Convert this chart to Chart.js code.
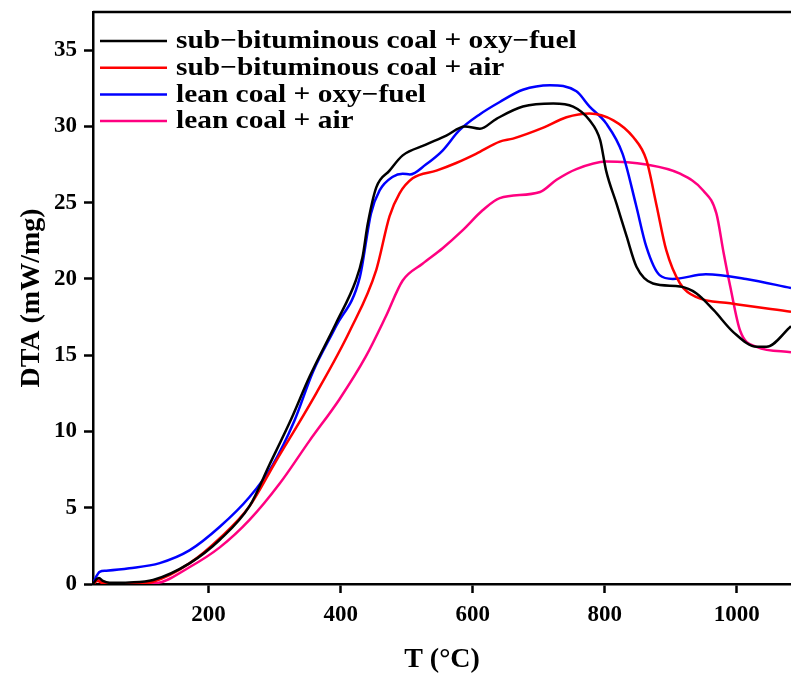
<!DOCTYPE html>
<html>
<head>
<meta charset="utf-8">
<script src="https://cdn.jsdelivr.net/npm/chart.js@4/dist/chart.umd.min.js"></script>
<style>
  body { margin: 0; background: #fff; }
  #wrap { width: 791px; height: 675px; }
</style>
</head>
<body>
<div id="wrap"><canvas id="dtaChart" width="791" height="675"></canvas></div>
<script>
// Series: temperature (°C) and DTA (mW/mg)
var seriesNames = ['sub\u2212bituminous coal + oxy\u2212fuel', 'sub\u2212bituminous coal + air',
                   'lean coal + oxy\u2212fuel', 'lean coal + air'];
var seriesColors = ['#000000', '#ff0000', '#0000ff', '#ff0080'];

var tSubOxy = [25, 30, 34, 40, 50, 80, 116, 171, 217, 262, 292, 325, 353, 393, 423, 433, 441, 454, 474, 494,
               529, 560, 588, 611, 636, 676, 722, 752, 777, 793, 802, 818, 833, 848, 873, 914, 939, 965, 995,
               1030, 1045, 1082];
var dtaSubOxy = [0, 0.3, 0.4, 0.2, 0.08, 0.1, 0.26, 1.35, 2.9, 5.1, 7.8, 10.8, 13.6, 17.1, 19.9, 21.4, 23.6, 26.0, 27.1, 28.1,
                 28.8, 29.4, 30.0, 29.85, 30.5, 31.3, 31.5, 31.3, 30.4, 29.1, 27.1, 24.9, 22.8, 20.8, 19.7, 19.5, 19.05, 17.95, 16.5,
                 15.55, 15.55, 16.9];

var tSubAir = [25, 32, 40, 60, 90, 116, 171, 217, 262, 300, 363, 414, 454, 474, 489, 509, 545, 575, 605, 641,
               661, 706, 742, 777, 813, 843, 863, 878, 893, 914, 939, 990, 1082];
var dtaSubAir = [0, 0.2, 0.05, 0, 0, 0.15, 1.35, 3.0, 5.1, 7.9, 12.5, 16.6, 20.6, 24.1, 25.6, 26.6, 27.1, 27.6, 28.2, 29.0,
                 29.2, 29.9, 30.6, 30.85, 30.4, 29.3, 27.8, 24.9, 21.9, 19.7, 18.8, 18.4, 17.85];

var tLeanOxy = [25, 30, 35, 45, 80, 126, 171, 217, 262, 297, 330, 358, 393, 429, 446, 459, 479, 494, 505, 529, 554,
                580, 611, 641, 676, 717, 757, 777, 802, 827, 847, 863, 883, 903, 953, 1014, 1082];
var dtaLeanOxy = [0, 0.5, 0.8, 0.87, 1.03, 1.37, 2.2, 3.75, 5.7, 7.8, 10.7, 13.9, 16.9, 20.1, 24.3, 25.8, 26.7, 26.9, 26.85, 27.5, 28.4,
                  29.75, 30.8, 31.6, 32.4, 32.7, 32.3, 31.3, 30.2, 28.2, 24.9, 22.1, 20.25, 20.0, 20.3, 20.0, 19.4];

var tLeanAir = [25, 30, 35, 45, 80, 120, 171, 217, 262, 308, 353, 398, 438, 468, 494, 524, 554, 585, 615, 641,
                702, 727, 757, 802, 863, 914, 949, 969, 980, 990, 1005, 1030, 1082];
var dtaLeanAir = [0, 0.3, 0.25, 0.05, 0, 0.05, 1.1, 2.4, 4.2, 6.6, 9.4, 12.1, 14.9, 17.5, 19.9, 21.0, 22.0, 23.2, 24.5, 25.3,
                  25.7, 26.5, 27.2, 27.7, 27.5, 26.9, 25.8, 24.3, 21.7, 19.5, 16.6, 15.55, 15.2];

var xTicks = [200, 400, 600, 800, 1000];
var yTicks = [0, 5, 10, 15, 20, 25, 30, 35];

function toPoints(xs, ys) {
    return xs.map(function(x, i) { return {x: x, y: ys[i]}; });
}

var allT = [tSubOxy, tSubAir, tLeanOxy, tLeanAir];
var allDta = [dtaSubOxy, dtaSubAir, dtaLeanOxy, dtaLeanAir];

var datasets = seriesNames.map(function(name, i) {
    return {
        label: name,
        data: toPoints(allT[i], allDta[i]),
        borderColor: seriesColors[i],
        borderWidth: 2.5,
        pointRadius: 0,
        fill: false,
        cubicInterpolationMode: 'monotone'
    };
});

var serif = "'Liberation Serif', 'Times New Roman', serif";

// legend drawn inside the plot, plus the top frame line
var insideLegend = {
    id: 'insideLegend',
    afterDraw: function(chart) {
        var ctx = chart.ctx;
        var area = chart.chartArea;
        ctx.save();
        ctx.strokeStyle = '#000';
        ctx.lineWidth = 2.5;
        ctx.beginPath();
        ctx.moveTo(area.left, area.top);
        ctx.lineTo(area.right, area.top);
        ctx.stroke();

        chart.data.datasets.forEach(function(ds, i) {
            var y = 41 + i * 26.7;
            ctx.strokeStyle = ds.borderColor;
            ctx.lineWidth = 2.5;
            ctx.beginPath();
            ctx.moveTo(100, y);
            ctx.lineTo(167, y);
            ctx.stroke();
            ctx.save();
            ctx.translate(176, y);
            ctx.scale(1.2, 1);
            ctx.fillStyle = '#000';
            ctx.font = 'bold 24.5px ' + serif;
            ctx.textBaseline = 'middle';
            ctx.fillText(ds.label, 0, 1);
            ctx.restore();
        });
        ctx.restore();
    }
};

var ctx = document.getElementById('dtaChart').getContext('2d');
var dtaChart = new Chart(ctx, {
    type: 'line',
    data: { datasets: datasets },
    options: {
        responsive: false,
        animation: false,
        layout: { padding: { top: 12, right: 0, left: 0, bottom: 0 } },
        plugins: {
            legend: { display: false },
            tooltip: { enabled: false }
        },
        scales: {
            x: {
                type: 'linear',
                min: 25,
                max: 1082,
                afterBuildTicks: function(scale) {
                    scale.ticks = xTicks.map(function(v) { return {value: v}; });
                },
                afterFit: function(scale) {
                    scale.height = 91;
                    scale.paddingLeft = 0;
                    scale.paddingRight = 0;
                },
                grid: { display: true, drawOnChartArea: false, drawTicks: true, tickLength: 9, tickWidth: 2.5, tickColor: '#000' },
                border: { display: true, color: '#000', width: 2.5 },
                ticks: {
                    color: '#000',
                    padding: 8,
                    maxRotation: 0,
                    callback: function(value) { return String(value); },
                    font: { family: serif, size: 23, weight: 'bold' }
                },
                title: {
                    display: true,
                    text: 'T (\u00B0C)',
                    color: '#000',
                    padding: { top: 0, bottom: -2 },
                    font: { family: serif, size: 28, weight: 'bold' }
                }
            },
            y: {
                min: 0,
                max: 37.5,
                afterBuildTicks: function(scale) {
                    scale.ticks = yTicks.map(function(v) { return {value: v}; });
                },
                afterFit: function(scale) {
                    scale.width = 93;
                    scale.paddingTop = 0;
                    scale.paddingBottom = 0;
                },
                grid: { display: true, drawOnChartArea: false, drawTicks: true, tickLength: 9, tickWidth: 2.5, tickColor: '#000' },
                border: { display: true, color: '#000', width: 2.5 },
                ticks: {
                    color: '#000',
                    padding: 7,
                    callback: function(value) { return String(value); },
                    font: { family: serif, size: 23, weight: 'bold' }
                },
                title: {
                    display: true,
                    text: 'DTA (mW/mg)',
                    color: '#000',
                    padding: { top: 15, bottom: 0 },
                    font: { family: serif, size: 28, weight: 'bold' }
                }
            }
        }
    },
    plugins: [insideLegend]
});
</script>
</body>
</html>
